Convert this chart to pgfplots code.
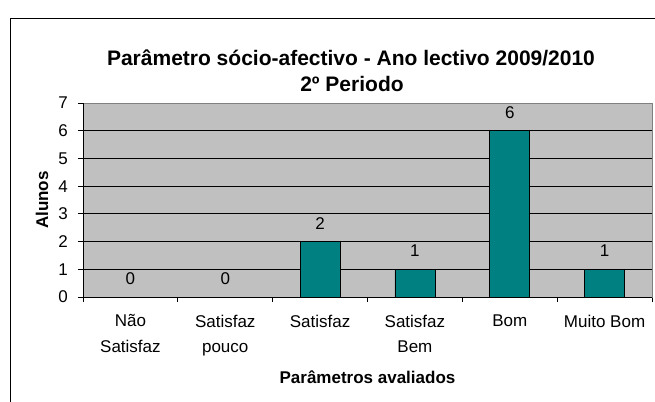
\documentclass[border=0pt]{standalone}
\usepackage{fontspec}
\setmainfont{Liberation Sans}
\usepackage{pgfplots}
\pgfplotsset{compat=1.18}
\definecolor{plotbg}{HTML}{C0C0C0}
\definecolor{barteal}{HTML}{008080}
\begin{document}
\begin{tikzpicture}[x=1bp,y=1bp]
\begin{axis}[
  at={(0,0)}, anchor=south west,
  scale only axis, width=569bp, height=194bp,
  xmin=-0.5, xmax=5.5, ymin=0, ymax=7,
  ybar, bar width=40bp,
  axis background/.style={fill=plotbg},
  axis line style={draw=gray, line width=1bp},
  xtick pos=bottom, ytick pos=left,
  xtick={0,...,5},
  xticklabels={{Não\\Satisfaz},{Satisfaz\\pouco},{Satisfaz},{Satisfaz\\Bem},{Bom},{Muito Bom}},
  major x tick style={draw=none},
  minor xtick={-0.5,0.5,...,5.5},
  ytick={0,...,7},
  tick align=outside, major tick length=5bp, minor tick length=5bp,
  tick style={black, line width=0.8bp},
  ymajorgrids, major grid style={black, line width=0.8bp},
  xticklabel style={font=\fontsize{17bp}{25.5bp}\selectfont, align=center, anchor=north, inner sep=0pt, yshift=-12.5bp},
  yticklabel style={font=\fontsize{17bp}{20bp}\selectfont, anchor=east, inner sep=0pt, xshift=-10bp},
  /pgf/number format/assume math mode=true,
  nodes near coords,
  nodes near coords style={font=\fontsize{17bp}{20bp}\selectfont, anchor=base, inner sep=0pt, yshift=12.5bp},
  xlabel={Parâmetros avaliados}, ylabel={Alunos},
  xlabel style={font=\bfseries\fontsize{17bp}{20bp}\selectfont, at={(axis description cs:0.5,-0.4433)}, anchor=base, inner sep=0pt},
  ylabel style={font=\bfseries\fontsize{17bp}{20bp}\selectfont, at={(axis description cs:-0.0615,0.5)}, anchor=base, inner sep=0pt},
]
\addplot[fill=barteal, draw=black, line width=0.8bp] coordinates {(0,0) (1,0) (2,2) (3,1) (4,6) (5,1)};
\draw[gray, line width=1bp] (rel axis cs:0,1) -- (rel axis cs:1,1) -- (rel axis cs:1,0);
\draw[black, line width=0.9bp] (rel axis cs:0,1) -- (rel axis cs:0,0) -- (rel axis cs:1,0);
\end{axis}
\node[font=\bfseries\fontsize{21bp}{26bp}\selectfont, anchor=base] at (268,232) {Parâmetro sócio-afectivo - Ano lectivo 2009/2010};
\node[font=\bfseries\fontsize{21bp}{26bp}\selectfont, anchor=base] at (269,206) {2º Periodo};
\draw[line width=1.3bp] (-72.5,-130) -- (-72.5,278.5) -- (600,278.5);
\pgfresetboundingbox
\useasboundingbox (-83,-104) rectangle (572,297);
\end{tikzpicture}
\end{document}
